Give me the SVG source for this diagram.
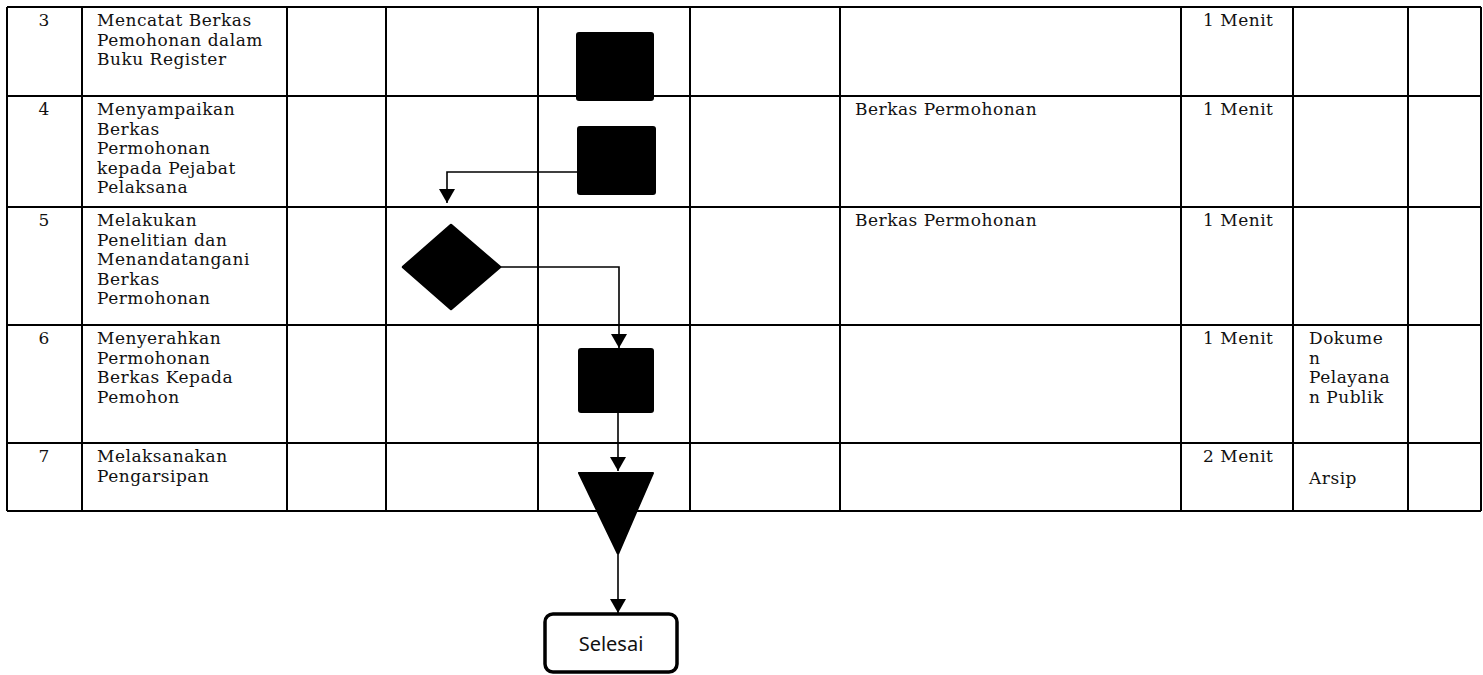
<svg xmlns="http://www.w3.org/2000/svg" width="1483" height="675" viewBox="0 0 1483 675">
  <style>
    .grid { stroke: #000; stroke-width: 2; fill: none; }
    .cell { font-family: "DejaVu Serif", "Liberation Serif", serif; font-size: 17px; letter-spacing: 0.5px; fill: #111; }
    .num { text-anchor: middle; letter-spacing: 0; }
    .proc { fill: #000; }
    .conn { stroke: #000; stroke-width: 1.6; fill: none; }
    .term { fill: #fff; stroke: #000; stroke-width: 3.5; }
    .term-label { font-family: "Noto Sans", "Open Sans", sans-serif; font-size: 20px; fill: #111; text-anchor: middle; }
  </style>
  <defs>
    <marker id="arrow" markerUnits="userSpaceOnUse" markerWidth="14" markerHeight="16" viewBox="0 0 14 16" refX="14" refY="8" orient="auto">
      <path d="M0,0 L14,8 L0,16 z" fill="#000"/>
    </marker>
  </defs>

  <rect width="1483" height="675" fill="#fff"/>

  <!-- table grid -->
  <g id="table" class="grid">
    <path d="M7,7 H1481 M7,96 H1481 M7,207 H1481 M7,325 H1481 M7,443 H1481 M7,511 H1481"/>
    <path d="M7,7 V511 M82,7 V511 M287,7 V511 M386,7 V511 M538,7 V511 M690,7 V511 M840,7 V511 M1181,7 V511 M1293,7 V511 M1408,7 V511 M1481,7 V511"/>
  </g>

  <!-- row texts -->
  <g id="row3" class="cell">
    <text class="num" x="44" y="26">3</text>
    <text x="97" y="26">Mencatat Berkas</text>
    <text x="97" y="45.5">Pemohonan dalam</text>
    <text x="97" y="65">Buku Register</text>
    <text x="1203" y="26">1 Menit</text>
  </g>
  <g id="row4" class="cell">
    <text class="num" x="44" y="115">4</text>
    <text x="97" y="115">Menyampaikan</text>
    <text x="97" y="134.5">Berkas</text>
    <text x="97" y="154">Permohonan</text>
    <text x="97" y="173.5">kepada Pejabat</text>
    <text x="97" y="193">Pelaksana</text>
    <text x="855" y="115">Berkas Permohonan</text>
    <text x="1203" y="115">1 Menit</text>
  </g>
  <g id="row5" class="cell">
    <text class="num" x="44" y="226">5</text>
    <text x="97" y="226">Melakukan</text>
    <text x="97" y="245.5">Penelitian dan</text>
    <text x="97" y="265">Menandatangani</text>
    <text x="97" y="284.5">Berkas</text>
    <text x="97" y="304">Permohonan</text>
    <text x="855" y="226">Berkas Permohonan</text>
    <text x="1203" y="226">1 Menit</text>
  </g>
  <g id="row6" class="cell">
    <text class="num" x="44" y="344">6</text>
    <text x="97" y="344">Menyerahkan</text>
    <text x="97" y="363.5">Permohonan</text>
    <text x="97" y="383">Berkas Kepada</text>
    <text x="97" y="402.5">Pemohon</text>
    <text x="1203" y="344">1 Menit</text>
    <text x="1309" y="344">Dokume</text>
    <text x="1309" y="363.5">n</text>
    <text x="1309" y="383">Pelayana</text>
    <text x="1309" y="402.5">n Publik</text>
  </g>
  <g id="row7" class="cell">
    <text class="num" x="44" y="462">7</text>
    <text x="97" y="462">Melaksanakan</text>
    <text x="97" y="481.5">Pengarsipan</text>
    <text x="1203" y="462">2 Menit</text>
    <text x="1309" y="484">Arsip</text>
  </g>

  <!-- connectors -->
  <g id="connectors" class="conn">
    <path d="M577,172 H447 V203" marker-end="url(#arrow)"/>
    <path d="M501,267 H619 V348" marker-end="url(#arrow)"/>
    <path d="M618,413 V471" marker-end="url(#arrow)"/>
    <path d="M618,555 V613" marker-end="url(#arrow)"/>
  </g>

  <!-- flow shapes -->
  <g id="step3"><rect class="proc" x="576" y="32" width="78" height="69" rx="3"/></g>
  <g id="step4"><rect class="proc" x="577" y="126" width="79" height="69" rx="3"/></g>
  <g id="step5"><polygon class="proc" points="403,267 451,225 500,267 451,309" stroke="#000" stroke-width="2.5" stroke-linejoin="round"/></g>
  <g id="step6"><rect class="proc" x="578" y="348" width="76" height="65" rx="3"/></g>
  <g id="step7"><polygon class="proc" points="579,473 653,473 618,554" stroke="#000" stroke-width="2" stroke-linejoin="round"/></g>
  <g id="end">
    <rect class="term" x="545" y="614" width="132" height="58" rx="8"/>
    <text class="term-label" x="611" y="651">Selesai</text>
  </g>
</svg>
